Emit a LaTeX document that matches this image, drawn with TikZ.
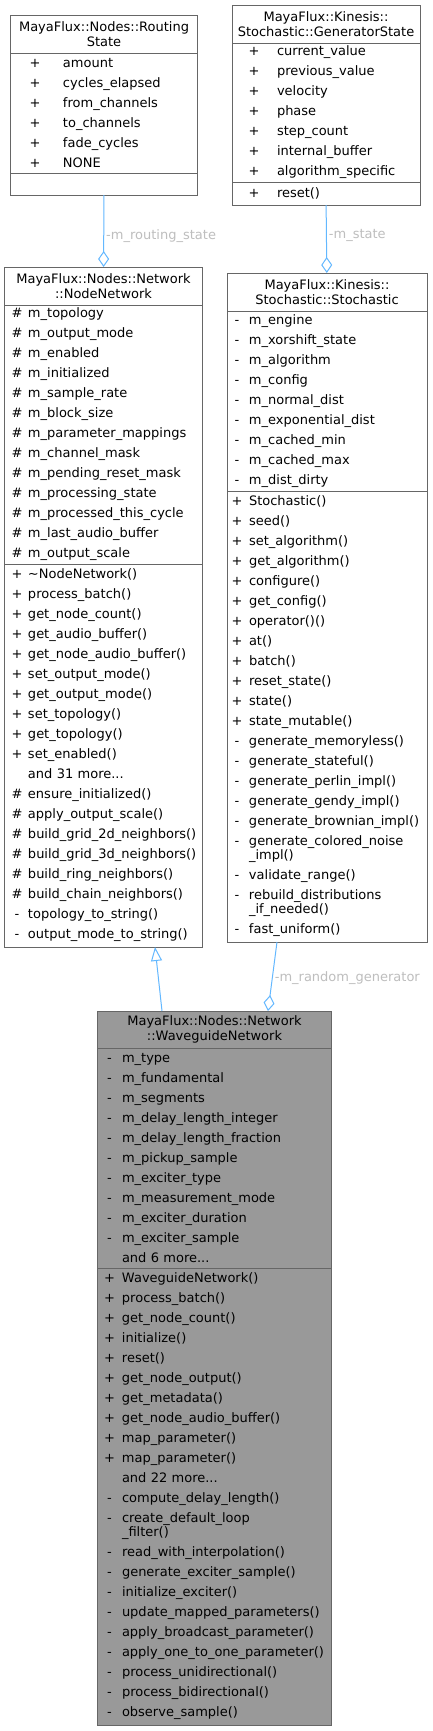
\documentclass[tikz,border=0pt]{standalone}
\usepackage{fontspec}
\setmainfont{DejaVu Sans}
\usetikzlibrary{arrows.meta,positioning}
\definecolor{edgeblue}{HTML}{63B8FF}
\definecolor{boxgray}{HTML}{666666}
\definecolor{labelgray}{HTML}{BEBEBE}
\definecolor{focusfill}{HTML}{999999}
\newlength{\entsym}
\newlength{\entgap}
\newcommand{\ent}[2]{\makebox[\entsym][c]{#1}\hspace{\entgap}#2}

\begin{document}
\begin{tikzpicture}[x=1bp,y=-1bp,
  cls/.style={draw=boxgray,line width=1bp,outer sep=0pt,inner xsep=0pt,inner ysep=0pt,
    font=\fontsize{13bp}{20bp}\selectfont},
  clstitle/.style={cls,align=center,anchor=north,minimum height=38bp,
    font=\fontsize{13bp}{15bp}\selectfont},
  clspart/.style={cls,align=left},
  syms/.style 2 args={execute at begin node={\setlength{\entsym}{#1}\setlength{\entgap}{#2}}},
  focus/.style={fill=focusfill},
  assoc/.style={draw=edgeblue,line width=1bp,-{Diamond[open,length=16bp,width=11bp]}},
  inherit/.style={draw=edgeblue,line width=1bp,-{Triangle[open,length=14bp,width=11bp]}},
  edgelabel/.style={font=\fontsize{13bp}{15bp}\selectfont,text=labelgray,anchor=west,inner sep=2bp}]
\fill[white] (0,0) rectangle (432,1731);
\useasboundingbox (0,0) rectangle (432,1731);

% routing state
\node[clstitle,text width=186bp] (rs) at (104,15) {MayaFlux::Nodes::Routing\\State};
\node[clspart,syms={48bp}{4bp},text width=186bp,minimum height=120bp,below=0pt of rs] (rs-attr)
  {\ent{+}{amount}\\\ent{+}{cycles\_elapsed}\\\ent{+}{from\_channels}\\\ent{+}{to\_channels}\\
   \ent{+}{fade\_cycles}\\\ent{+}{NONE}};
\node[clspart,text width=186bp,minimum height=22bp,below=0pt of rs-attr] (rs-ops) {};

% generator state
\node[clstitle,text width=188bp] (gs) at (326,5) {MayaFlux::Kinesis::\\Stochastic::GeneratorState};
\node[clspart,syms={44bp}{1bp},text width=188bp,minimum height=139bp,below=0pt of gs] (gs-attr)
  {\ent{+}{current\_value}\\\ent{+}{previous\_value}\\\ent{+}{velocity}\\\ent{+}{phase}\\
   \ent{+}{step\_count}\\\ent{+}{internal\_buffer}\\\ent{+}{algorithm\_specific}};
\node[clspart,syms={44bp}{1bp},text width=188bp,minimum height=23bp,below=0pt of gs-attr] (gs-ops)
  {\ent{+}{reset()}};

% node network
\node[clstitle,text width=197bp] (nn) at (103.5,267) {MayaFlux::Nodes::Network\\::NodeNetwork};
\node[clspart,syms={24bp}{-1bp},text width=197bp,minimum height=259bp,below=0pt of nn] (nn-attr)
  {\ent{\#}{m\_topology}\\\ent{\#}{m\_output\_mode}\\\ent{\#}{m\_enabled}\\\ent{\#}{m\_initialized}\\
   \ent{\#}{m\_sample\_rate}\\\ent{\#}{m\_block\_size}\\\ent{\#}{m\_parameter\_mappings}\\
   \ent{\#}{m\_channel\_mask}\\\ent{\#}{m\_pending\_reset\_mask}\\\ent{\#}{m\_processing\_state}\\
   \ent{\#}{m\_processed\_this\_cycle}\\\ent{\#}{m\_last\_audio\_buffer}\\\ent{\#}{m\_output\_scale}};
\node[clspart,syms={24bp}{-1bp},text width=197bp,minimum height=383bp,below=0pt of nn-attr] (nn-ops)
  {\ent{+}{\textasciitilde NodeNetwork()}\\\ent{+}{process\_batch()}\\\ent{+}{get\_node\_count()}\\
   \ent{+}{get\_audio\_buffer()}\\\ent{+}{get\_node\_audio\_buffer()}\\\ent{+}{set\_output\_mode()}\\
   \ent{+}{get\_output\_mode()}\\\ent{+}{set\_topology()}\\\ent{+}{get\_topology()}\\
   \ent{+}{set\_enabled()}\\\ent{}{and 31 more...}\\\ent{\#}{ensure\_initialized()}\\
   \ent{\#}{apply\_output\_scale()}\\\ent{\#}{build\_grid\_2d\_neighbors()}\\
   \ent{\#}{build\_grid\_3d\_neighbors()}\\\ent{\#}{build\_ring\_neighbors()}\\
   \ent{\#}{build\_chain\_neighbors()}\\\ent{-}{topology\_to\_string()}\\
   \ent{-}{output\_mode\_to\_string()}};

% stochastic
\node[clstitle,text width=200bp] (st) at (327,273) {MayaFlux::Kinesis::\\Stochastic::Stochastic};
\node[clspart,syms={20bp}{2bp},text width=200bp,minimum height=180bp,below=0pt of st] (st-attr)
  {\ent{-}{m\_engine}\\\ent{-}{m\_xorshift\_state}\\\ent{-}{m\_algorithm}\\\ent{-}{m\_config}\\
   \ent{-}{m\_normal\_dist}\\\ent{-}{m\_exponential\_dist}\\\ent{-}{m\_cached\_min}\\
   \ent{-}{m\_cached\_max}\\\ent{-}{m\_dist\_dirty}};
\node[clspart,syms={20bp}{2bp},text width=200bp,minimum height=451bp,below=0pt of st-attr] (st-ops)
  {\ent{+}{Stochastic()}\\\ent{+}{seed()}\\\ent{+}{set\_algorithm()}\\\ent{+}{get\_algorithm()}\\
   \ent{+}{configure()}\\\ent{+}{get\_config()}\\\ent{+}{operator()()}\\\ent{+}{at()}\\
   \ent{+}{batch()}\\\ent{+}{reset\_state()}\\\ent{+}{state()}\\\ent{+}{state\_mutable()}\\
   \ent{-}{generate\_memoryless()}\\\ent{-}{generate\_stateful()}\\\ent{-}{generate\_perlin\_impl()}\\
   \ent{-}{generate\_gendy\_impl()}\\\ent{-}{generate\_brownian\_impl()}\\
   \ent{-}{generate\_colored\_noise}\\[-6bp]\ent{}{\_impl()}\\\ent{-}{validate\_range()}\\
   \ent{-}{rebuild\_distributions}\\[-6bp]\ent{}{\_if\_needed()}\\\ent{-}{fast\_uniform()}};

% waveguide network
\node[clstitle,focus,text width=233bp,minimum height=37bp] (wg) at (214.5,1011)
  {MayaFlux::Nodes::Network\\::WaveguideNetwork};
\node[clspart,focus,syms={23bp}{1bp},text width=233bp,minimum height=220bp,below=0pt of wg] (wg-attr)
  {\ent{-}{m\_type}\\\ent{-}{m\_fundamental}\\\ent{-}{m\_segments}\\\ent{-}{m\_delay\_length\_integer}\\
   \ent{-}{m\_delay\_length\_fraction}\\\ent{-}{m\_pickup\_sample}\\\ent{-}{m\_exciter\_type}\\
   \ent{-}{m\_measurement\_mode}\\\ent{-}{m\_exciter\_duration}\\\ent{-}{m\_exciter\_sample}\\
   \ent{}{and 6 more...}};
\node[clspart,focus,syms={23bp}{1bp},text width=233bp,minimum height=457bp,below=0pt of wg-attr] (wg-ops)
  {\ent{+}{WaveguideNetwork()}\\\ent{+}{process\_batch()}\\\ent{+}{get\_node\_count()}\\
   \ent{+}{initialize()}\\\ent{+}{reset()}\\\ent{+}{get\_node\_output()}\\\ent{+}{get\_metadata()}\\
   \ent{+}{get\_node\_audio\_buffer()}\\\ent{+}{map\_parameter()}\\\ent{+}{map\_parameter()}\\
   \ent{}{and 22 more...}\\\ent{-}{compute\_delay\_length()}\\
   \ent{-}{create\_default\_loop}\\[-6bp]\ent{}{\_filter()}\\\ent{-}{read\_with\_interpolation()}\\
   \ent{-}{generate\_exciter\_sample()}\\\ent{-}{initialize\_exciter()}\\
   \ent{-}{update\_mapped\_parameters()}\\\ent{-}{apply\_broadcast\_parameter()}\\
   \ent{-}{apply\_one\_to\_one\_parameter()}\\\ent{-}{process\_unidirectional()}\\
   \ent{-}{process\_bidirectional()}\\\ent{-}{observe\_sample()}};

\draw[assoc] (rs-ops) -- (nn) node[edgelabel,pos=0.57] {-m\_routing\_state};
\draw[assoc] (gs-ops) -- (st) node[edgelabel,pos=0.45] {-m\_state};
\draw[inherit] ([xshift=64bp]wg.north west) -- ([xshift=150bp]nn-ops.south west);
\draw[assoc] ([xshift=50bp]st-ops.south west) -- ([xshift=170bp]wg.north west)
  node[edgelabel,pos=0.52] {-m\_random\_generator};
\end{tikzpicture}
\end{document}
